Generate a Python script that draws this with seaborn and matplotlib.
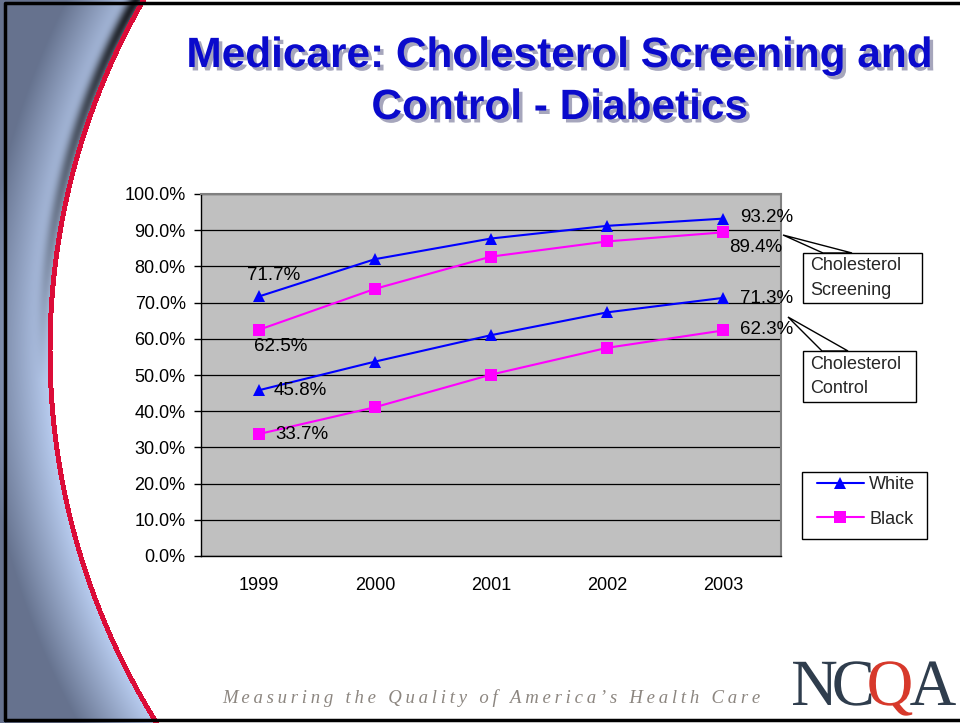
""" Medicare cholesterol screening and control among diabetics, by race """
import numpy as np
import pandas as pd
import matplotlib.pyplot as plt
import matplotlib.patheffects as pe
from matplotlib.lines import Line2D
from matplotlib.patches import Polygon, Rectangle, PathPatch
from matplotlib.textpath import TextPath
from matplotlib.font_manager import FontProperties, fontManager
from matplotlib.transforms import Affine2D
import seaborn as sns

years = [1999, 2000, 2001, 2002, 2003]
white_screening = [71.7, 82.0, 87.7, 91.2, 93.2]
black_screening = [62.5, 73.8, 82.7, 86.9, 89.4]
white_control = [45.8, 53.7, 61.0, 67.3, 71.3]
black_control = [33.7, 41.1, 50.1, 57.5, 62.3]
races = ['White', 'Black']
measures = ['Screening', 'Control']
callout_labels = ['Cholesterol\nScreening', 'Cholesterol\nControl']
title_lines = ['Medicare: Cholesterol Screening and', 'Control - Diabetics']
footer = 'Measuring the Quality of America\u2019s Health Care'

race_colors = {'White': '#0000FF', 'Black': '#FF00FF'}
race_markers = {'White': '^', 'Black': 's'}

W, H = 960, 723

def px(x, y):
    """ Slide pixel position (y from the top) to figure fraction """
    return x / W, 1 - y / H

""" Long-form table for seaborn """
series = {('Screening', 'White'): white_screening, ('Screening', 'Black'): black_screening,
          ('Control', 'White'): white_control, ('Control', 'Black'): black_control}
rows = []
for (measure, race), values in series.items():
    for year, value in zip(years, values):
        rows.append({'year': year, 'value': value, 'race': race, 'measure': measure})
df = pd.DataFrame(rows)

sns.set_theme(style='white')
plt.rcParams['font.family'] = ['Liberation Sans', 'DejaVu Sans']

""" Narrow bold face for the title if there is one, else a smaller regular face """
installed = {f.name for f in fontManager.ttflist}
if 'Liberation Sans Narrow' in installed:
    title_family, title_size = 'Liberation Sans Narrow', 34
else:
    title_family, title_size = 'Liberation Sans', 30.5

fig = plt.figure(figsize=(W / 100, H / 100), dpi=100)

""" Slide background: swoosh on the left edge """
bg = fig.add_axes([0, 0, 1, 1], zorder=-1)
yy, xx = np.mgrid[0:H, 0:W]
dist = np.hypot(xx - 753, yy - 350) - 701
img = np.ones((H, W, 3))
t = np.clip(dist / 70, 0, 1)[..., None]
light = np.array([0.74, 0.82, 0.96])
slate = np.array([0.40, 0.45, 0.56])
outer = light * (1 - t) + slate * t
shade = (np.exp(-((dist - 9) / 7) ** 2) * np.clip(1 - yy / 380, 0, 1))[..., None]
outer = outer * (1 - 0.85 * shade)
img = np.where((dist > 0)[..., None], outer, img)
red = (dist > 0) & (dist < 5)
img[red] = [0.86, 0.05, 0.22]
bg.imshow(img, extent=(0, W, H, 0), aspect='auto', interpolation='bilinear')
bg.set_xlim(0, W)
bg.set_ylim(H, 0)
bg.axis('off')
bg.plot([5, 5, W], [H - 3, 3, 3], color='black', linewidth=2.5)
bg.plot([5, W], [H - 3, H - 3], color='black', linewidth=2.5)

""" NCQA logo """
fp = FontProperties(family=['Liberation Serif', 'DejaVu Serif'])
cursor = 793
for letter, color in [('N', '#2f3d4d'), ('C', '#2f3d4d'), ('Q', '#d7392b'), ('A', '#2f3d4d')]:
    path = TextPath((0, 0), letter, size=66, prop=fp)
    ext = path.get_extents()
    tr = Affine2D().translate(-ext.x0, 0).scale(0.98, -1).translate(cursor, 705)
    bg.add_patch(PathPatch(tr.transform_path(path), facecolor=color, edgecolor='none'))
    cursor += ext.width * 0.98 - 2

""" Footer """
bg.text(491, 698, '\u2009'.join(footer), ha='center', va='center', fontsize=13.5,
        style='italic', color='#8c8680', family=['Liberation Serif', 'DejaVu Serif'])

""" Title """
for i, line in enumerate(title_lines):
    fig.text(*px(560, 56 + 52 * i), line, ha='center', va='center', fontsize=title_size,
             fontweight='bold', color='#0A0ACC', family=[title_family, 'DejaVu Sans'],
             path_effects=[pe.SimplePatchShadow(offset=(2.5, -2.5), shadow_rgbFace='#8080a0',
                                                alpha=0.7), pe.Normal()])

""" Chart """
ax = fig.add_axes([*px(201, 556), 580 / W, 362 / H])
ax.set_facecolor('#C0C0C0')
sns.lineplot(data=df, x='year', y='value', hue='race', style='race', units='measure',
             estimator=None, palette=race_colors, markers=race_markers, dashes=False,
             markersize=9, markeredgewidth=0, linewidth=1.5, legend=False, ax=ax)
ax.set_xlim(years[0] - 0.5, years[-1] + 0.5)
ax.set_ylim(0, 100)
ax.set_xticks(years)
ax.set_xticklabels([str(y) for y in years])
ax.set_xticks(np.arange(years[0] - 0.5, years[-1] + 1), minor=True)
ax.set_yticks(np.arange(0, 101, 10))
ax.set_yticklabels([f'{v:.1f}%' for v in np.arange(0, 101, 10)])
ax.tick_params(axis='x', which='major', length=0, pad=15, labelsize=13, labelcolor='black')
ax.tick_params(axis='x', which='minor', length=5, width=1, direction='out', color='black')
ax.tick_params(axis='y', length=5, width=1, direction='out', color='black', pad=6,
               labelsize=13, labelcolor='black', left=True)
ax.set(xlabel=None, ylabel=None)
ax.yaxis.grid(True, color='black', linewidth=0.9)
ax.xaxis.grid(False)
ax.set_axisbelow(True)
for side in ['left', 'bottom']:
    ax.spines[side].set_color('black')
    ax.spines[side].set_linewidth(1)
for side in ['top', 'right']:
    ax.spines[side].set_color('#808080')
    ax.spines[side].set_linewidth(1.5)

""" End point value labels (offsets in pixels) """
label_offsets = {('Screening', 'White', 0): (-12, 21), ('Screening', 'Black', 0): (-5, -17),
                 ('Control', 'White', 0): (15, 0), ('Control', 'Black', 0): (16, 0),
                 ('Screening', 'White', -1): (17, 1), ('Screening', 'Black', -1): (6, -15),
                 ('Control', 'White', -1): (17, -1), ('Control', 'Black', -1): (17, 1)}
for (measure, race, idx), (dx, dy) in label_offsets.items():
    value = series[(measure, race)][idx]
    ax.annotate(f'{value:.1f}%', (years[idx], value), xytext=(dx * 0.72, dy * 0.72),
                textcoords='offset points', ha='left', va='center', fontsize=13.5,
                color='black', annotation_clip=False)

""" Callout boxes """
callouts = [((783, 235), (823, 253), (852, 253), (803, 253, 922, 303)),
            ((788, 317), (822, 351), (848, 351), (803, 351, 916, 402))]
for label, (tip, b1, b2, box) in zip(callout_labels, callouts):
    fig.add_artist(Polygon([px(*tip), px(*b1), px(*b2)], closed=True, facecolor='white',
                           edgecolor='black', linewidth=1, transform=fig.transFigure, zorder=3))
    x0, y0, x1, y1 = box
    fig.add_artist(Rectangle(px(x0, y1), (x1 - x0) / W, (y1 - y0) / H, facecolor='white',
                             edgecolor='black', linewidth=1, transform=fig.transFigure, zorder=4))
    fig.text(*px(x0 + 7, (y0 + y1) / 2), label, ha='left', va='center', fontsize=13,
             linespacing=1.6, zorder=5)

""" Legend """
fig.add_artist(Rectangle(px(802, 539), 125 / W, 67 / H, facecolor='white', edgecolor='black',
                         linewidth=1, transform=fig.transFigure, zorder=3))
handles = [Line2D([], [], color=race_colors[r], marker=race_markers[r], markersize=9,
                  markeredgewidth=0, linewidth=1.5) for r in races]
leg = fig.legend(handles, races, loc='center left', bbox_to_anchor=px(817, 502),
                 frameon=False, fontsize=13, handlelength=2.6, handletextpad=0.3,
                 labelspacing=0.95, borderpad=0, borderaxespad=0)
leg.set_zorder(5)

fig.savefig('out.png', dpi=100)
